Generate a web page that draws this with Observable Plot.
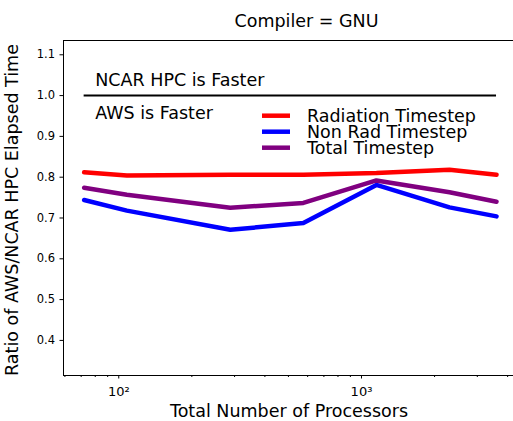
<!DOCTYPE html>
<html><head><meta charset="utf-8">
<script src="https://cdn.jsdelivr.net/npm/d3@7"></script>
<script src="https://cdn.jsdelivr.net/npm/@observablehq/plot@0.6"></script>
<style>body{margin:0;background:#fff} svg{font-family:"DejaVu Sans",sans-serif}</style>
</head><body><div id="chart"></div>
<script>
const processors = [72, 108, 288, 576, 1152, 2304, 3600];
const radiation = [0.812, 0.804, 0.806, 0.806, 0.810, 0.818, 0.806];
const nonRad = [0.744, 0.718, 0.671, 0.688, 0.781, 0.726, 0.704];
const total = [0.774, 0.757, 0.725, 0.737, 0.792, 0.763, 0.740];
const seriesNames = ["Radiation Timestep", "Non Rad Timestep", "Total Timestep"];
const seriesColors = ["#ff0000", "#0000ff", "#800080"];
const yTicks = [0.4, 0.5, 0.6, 0.7, 0.8, 0.9, 1.0, 1.1];
const xMajorTicks = [100, 1000];
const xMajorLabels = ["10²", "10³"];
const xMinorTicks = [60, 70, 80, 90, 200, 300, 400, 500, 600, 700, 800, 900, 2000, 3000, 4000];
const refValue = 1.0;
const annotationText = ["NCAR HPC is Faster", "AWS is Faster"];
const annotationX = [80, 80];
const annotationY = [1.037, 0.957];
const titleText = "Compiler = GNU";
const xLabel = "Total Number of Processors";
const yLabel = "Ratio of AWS/NCAR HPC Elapsed Time";

const seriesValues = [radiation, nonRad, total];
const rows = seriesNames.flatMap((name, s) =>
  processors.map((p, i) => ({series: name, x: p, y: seriesValues[s][i]})));
const annotations = annotationText.map((t, i) => ({text: t, x: annotationX[i], y: annotationY[i]}));

const W = 513, H = 421;
const chart = Plot.plot({
  width: W, height: H,
  marginLeft: 63, marginRight: 0, marginTop: 40, marginBottom: 46,
  style: {fontFamily: "DejaVu Sans", fontSize: "11.5px", color: "black", background: "white"},
  x: {type: "log", domain: [59.2, 4229]},
  y: {domain: [0.314, 1.135]},
  color: {domain: seriesNames, range: seriesColors},
  marks: [
    Plot.axisY({ticks: yTicks, tickFormat: d3.format(".1f"), tickSize: 3.5, tickPadding: 5, label: null}),
    Plot.axisX({ticks: xMajorTicks, tickFormat: d => xMajorLabels[xMajorTicks.indexOf(d)], tickSize: 3.5, tickPadding: 8, fontSize: 13, label: null}),
    Plot.axisX({ticks: xMinorTicks, tickFormat: () => "", tickSize: 2, label: null}),
    Plot.ruleY([refValue], {x1: processors[0], x2: processors[processors.length - 1], stroke: "black", strokeWidth: 2}),
    Plot.line(rows, {x: "x", y: "y", z: "series", stroke: "series", strokeWidth: 4.5}),
    Plot.text(annotations, {x: "x", y: "y", text: "text", textAnchor: "start", fontSize: 17.5, fill: "black"}),
    Plot.frame({stroke: "black", strokeWidth: 1})
  ]
});
document.getElementById("chart").appendChild(chart);

const svg = d3.select(chart);
const txt = (x, y, s, anchor) => svg.append("text").attr("x", x).attr("y", y)
  .attr("text-anchor", anchor).attr("font-size", "17.5px").attr("fill", "black").text(s);
txt(306.5, 27, titleText, "middle");
txt(289, 417, xLabel, "middle");
svg.append("text").attr("transform", "translate(18,210) rotate(-90)")
  .attr("text-anchor", "middle").attr("font-size", "17.5px").attr("fill", "black").text(yLabel);

const leg = svg.append("g");
seriesNames.forEach((name, i) => {
  const cy = 115.7 + i * 16;
  leg.append("line").attr("x1", 262).attr("x2", 290).attr("y1", cy).attr("y2", cy)
    .attr("stroke", seriesColors[i]).attr("stroke-width", 4.5);
  leg.append("text").attr("x", 307).attr("y", cy).attr("dy", "0.36em")
    .attr("text-anchor", "start")
    .attr("font-size", "17.5px").attr("fill", "black").text(name);
});
</script></body></html>
